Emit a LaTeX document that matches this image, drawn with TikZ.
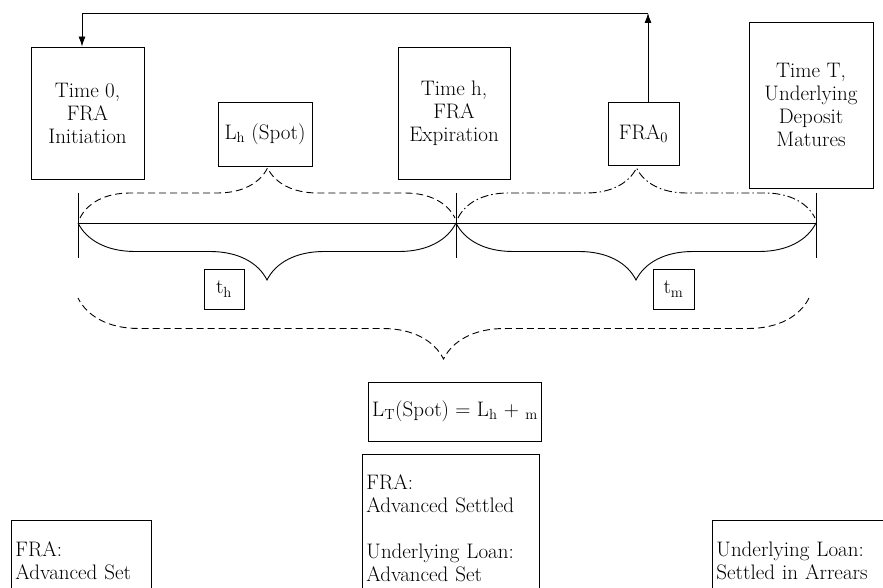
\documentclass[tikz,border=0pt]{standalone}
\usepackage{mathtools}
\usetikzlibrary{calc}
\usetikzlibrary{arrows.meta}
\usetikzlibrary{decorations.pathreplacing}

\tikzset{
    kotak/.style={draw, align=center, inner sep=4pt},
    catatan/.style={draw, align=left, anchor=north west, inner sep=4pt},
    kurung/.style={decorate, decoration={brace, amplitude=#1}},
    panah/.style={-{Latex[length=10pt, width=7pt]}},
}

\begin{document}
\begin{tikzpicture}[x=1pt, y=-1pt, line width=0.9pt, font=\fontsize{21}{23}\selectfont]
    \useasboundingbox (0,0) rectangle (883,588);
    \clip (0,0) rectangle (883,588);

    % kotak-kotak waktu
    \node[kotak, minimum width=113pt, minimum height=132pt] (T0) at (87.5,113) {Time 0,\\FRA\\Initiation};
    \node[kotak, minimum width=112pt, minimum height=132pt] (Th) at (454,113) {Time h,\\FRA\\Expiration};
    \node[kotak, minimum width=124pt, minimum height=166pt] (TT) at (811,105) {Time T,\\Underlying\\Deposit\\Matures};
    \node[kotak, minimum width=94pt, minimum height=64pt] (Lh) at (265,134) {L\textsubscript{h} (Spot)};
    \node[kotak, minimum width=71pt, minimum height=63pt] (FRA) at (643.5,133.5) {FRA\textsubscript{0}};

    % panah
    \coordinate (atas) at (648,13);
    \coordinate (sudut) at (82,13);
    \draw[panah] (FRA.north -| atas) -- (atas);
    \draw[panah] (atas) -- (sudut) -- (sudut |- T0.north);

    % garis waktu
    \coordinate (A) at (78,223);
    \coordinate (B) at (456,223);
    \coordinate (C) at (816,223);
    \draw (A) -- (C);
    \foreach \p in {A,B,C}
        \draw ($(\p)+(0,-30)$) -- ($(\p)+(0,35)$);

    % kurung bawah
    \draw[kurung=57] (B) -- (A);
    \draw[kurung=57] (C) -- (B);

    % kurung atas
    \draw[kurung=50, dash pattern=on 7pt off 4pt] ($(A)+(2,-5)$) -- ($(B)+(-1,-5)$);
    \draw[kurung=50, dash pattern=on 8pt off 3pt on 1.5pt off 3pt] ($(B)+(2,-5)$) -- ($(C)+(-1,-5)$);

    % kurung besar
    \coordinate (D) at (78,298);
    \coordinate (E) at (809,298);
    \draw[kurung=61, dash pattern=on 7pt off 4pt] (E) -- (D);

    % label jangka waktu
    \node[kotak, minimum width=40pt, minimum height=40pt] (th) at (224,289) {t\textsubscript{h}};
    \node[kotak, minimum width=41pt, minimum height=40pt] (tm) at (673.5,289) {t\textsubscript{m}};
    \node[kotak, minimum width=170pt, minimum height=59pt] (LT) at (455,411.5) {L\textsubscript{T}(Spot) = L\textsubscript{h} + \textsubscript{m}};

    % catatan penyelesaian
    \node[catatan, text width=132pt, minimum height=80pt] (fraSet) at (11,520) {FRA:\\Advanced Set};
    \node[catatan, text width=169pt, minimum height=148pt] (fraSettled) at (362,454) {FRA:\\Advanced Settled\\[23pt]Underlying Loan:\\Advanced Set};
    \node[catatan, text width=180pt, minimum height=80pt] (loanArrears) at (712,520) {Underlying Loan:\\Settled in Arrears};
\end{tikzpicture}
\end{document}
